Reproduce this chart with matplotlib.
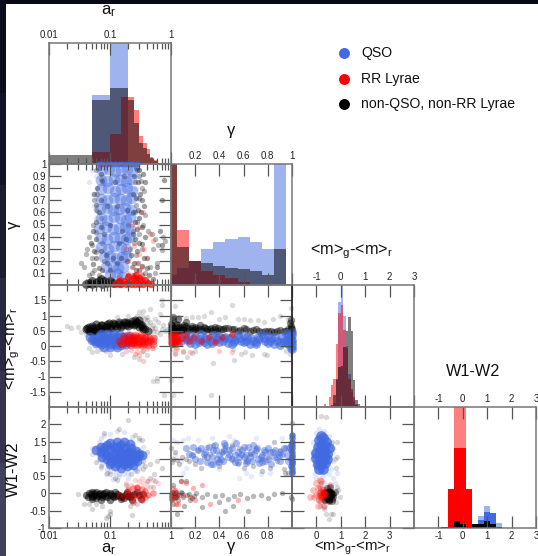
import matplotlib
matplotlib.use("Agg")
import matplotlib.pyplot as plt
from matplotlib.patches import Rectangle
from matplotlib.ticker import FixedLocator, NullFormatter

plt.rcParams['font.family'] = ['Liberation Sans', 'DejaVu Sans']
plt.rcParams['mathtext.fontset'] = 'custom'
plt.rcParams['mathtext.rm'] = 'Liberation Sans'
plt.rcParams['mathtext.default'] = 'regular'

BLUE = "royalblue"
RED = "red"
BLACK = "black"

# histogramas: bordes y alturas (fraccion del panel, >1 se corta)
ar_edges_qso = [0.01, 0.05, 0.1, 0.2, 0.3, 0.4, 0.5, 0.6, 1.0]
ar_qso = [0.012, 0.57, 1.2, 0.02, 0.01, 0.005, 0.0, 0.0]
ar_edges_other = [0.01, 0.05, 0.1, 0.2, 0.25, 0.3, 0.35, 0.4, 0.45, 0.5, 0.6, 1.0]
ar_other = [0.075, 0.53, 0.625, 0.53, 0.335, 0.17, 0.13, 0.08, 0.05, 0.025, 0.005]
ar_edges_red = [0.05, 0.1, 0.15, 0.2, 0.25, 0.3, 0.35, 0.4, 0.45, 0.5, 0.6, 1.0]
ar_rr = [0.10, 0.245, 0.55, 0.55, 0.45, 0.23, 0.175, 0.125, 0.06, 0.03, 0.006]

g_edges = [-0.05, 0.05, 0.15, 0.25, 0.35, 0.45, 0.55, 0.65, 0.75, 0.85, 0.95]
g_qso = [0.08, 0.143, 0.195, 0.30, 0.355, 0.38, 0.397, 0.355, 0.295, 1.2]
g_rr = [1.2, 0.457, 0.198, 0.115, 0.083, 0.055, 0.025, 0.002, 0.008, 0.0]
g_other = [1.2, 0.31, 0.198, 0.18, 0.157, 0.143, 0.13, 0.115, 0.085, 0.295]

gr_edges = [-0.7, -0.6, -0.5, -0.4, -0.3, -0.2, -0.1, 0.0, 0.1, 0.2, 0.3, 0.4, 0.5, 0.6, 0.7, 0.8, 0.9, 1.1]
gr_qso = [0.0, 0.0, 0.0, 0.01, 0.03, 0.22, 0.86, 1.2, 0.75, 0.5, 0.27, 0.12, 0.05, 0.02, 0.005, 0.0, 0.0]
gr_rr = [0.025, 0.01, 0.08, 0.18, 0.23, 0.52, 0.77, 0.84, 0.63, 0.48, 0.23, 0.15, 0.08, 0.025, 0.01, 0.0, 0.0]
gr_other = [0.0, 0.0, 0.0, 0.02, 0.1, 0.23, 0.33, 0.34, 0.49, 0.62, 0.735, 0.625, 0.225, 0.06, 0.025, 0.005, 0.005]

w_edges = [-0.875, -0.625, -0.375, -0.125, 0.125, 0.375, 0.625, 0.875, 1.125, 1.375, 1.625, 2.125]
w_rr_pale = [0.0, 0.0, 1.2, 1.2, 0.0, 0.0, 0.0, 0.0, 0.0, 0.0, 0.0]
w_rr = [0.0, 0.32, 0.66, 0.66, 0.32, 0.0, 0.0, 0.0, 0.0, 0.0, 0.0]
w_qso_pale = [0.0, 0.0, 0.0, 0.0, 0.0, 0.0, 0.1, 0.18, 0.125, 0.04, 0.0]
w_qso = [0.0, 0.0, 0.0, 0.0, 0.0, 0.0, 0.07, 0.13, 0.125, 0.01, 0.0]
w_other = [0.005, 0.005, 0.06, 0.033, 0.006, 0.03, 0.033, 0.06, 0.033, 0.008, 0.004]

# ar - gamma
ag_qcore = [(.075,.95),(.095,.96),(.12,.94),(.15,.95),(.19,.96),(.23,.94),
            (.07,.87),(.09,.86),(.115,.88),(.145,.87),(.18,.86),(.22,.88),
            (.072,.79),(.092,.8),(.12,.78),(.15,.79),(.19,.8),(.23,.78),
            (.07,.71),(.09,.7),(.115,.72),(.145,.71),(.18,.7),(.22,.72),
            (.068,.63),(.088,.64),(.112,.62),(.14,.63),(.175,.64),(.22,.62),
            (.07,.55),(.09,.54),(.115,.56),(.145,.55),(.18,.54),(.215,.56),
            (.066,.47),(.086,.48),(.11,.46),(.14,.47),(.175,.48),(.21,.46),
            (.07,.39),(.09,.38),(.115,.4),(.145,.39),(.18,.38),(.205,.4),
            (.072,.31),(.092,.3),(.118,.32),(.15,.31),(.18,.3),
            (.08,.23),(.1,.24),(.125,.22),(.155,.23),(.185,.24),
            (.085,.15),(.11,.16),(.135,.14),(.165,.15),
            (.1,.08),(.13,.09),(.16,.07)]
ag_qtop = [(.065,1),(.075,1),(.09,1),(.105,1),(.12,1),(.14,1),(.16,1),(.18,1),(.21,1),(.24,1),(.28,1)]
ag_qsparse = [(.045,.85),(.052,.75),(.05,.95),(.058,.55),(.055,.65),(.06,.9),(.06,.72),(.058,.42),
              (.062,.3),(.3,.9),(.3,.7),(.28,.55),(.27,.4),(.3,.95),(.27,.8)]
ag_k = [(.034,.18),(.038,.15),(.042,.3),(.046,.4),(.05,.33),(.05,.22),(.052,.5),(.055,.12),(.058,.62),(.06,.44),
        (.06,.27),(.062,.75),(.065,.08),(.07,.55),(.07,.88),(.075,.35),(.08,.2),(.05,.1),(.045,.08),(.04,.26),
        (.055,.7),(.06,.95),(.28,.95),(.3,.9),(.32,.86),(.34,.8),(.3,.72),(.27,.66),(.26,.6),(.36,.78),
        (.38,.58),(.42,.45),(.48,.42),(.55,.38),(.62,.33),(.7,.29),(.75,.4),(.8,.36),(.35,.5),(.28,.52),
        (.3,.42),(.33,.3),(.25,.35),(.27,.25),(.29,.18),(.4,.22),(.45,.15),(.5,.3),(.6,.18),(.55,.1),
        (.26,.85),(.24,.45),(.3,.12),(.34,.08),(.38,.1),(.28,.06),(.23,.15),(.21,.3),(.2,.5),(.15,.05),
        (.065,.97),(.07,.92),(.075,.86),(.062,.8),(.07,.7),(.055,.75),(.058,.66),(.065,.6),(.06,.52),(.052,.45),
        (.06,.38),(.048,.35),(.055,.28),(.06,.22),(.052,.17),(.065,.14),(.075,.12),(.07,.28),(.08,.42),(.07,.48),
        (.085,.25),(.09,.18),(.1,.12),(.11,.22),(.13,.18),(.15,.22),(.19,.2),(.22,.25),(.2,.08),(.24,.08),
        (.27,.12),(.25,.18),(.28,.28),(.3,.35),(.26,.38),(.24,.42),(.28,.46),(.3,.55),(.26,.52),(.24,.6),
        (.29,.62),(.27,.72),(.24,.75),(.31,.75),(.29,.85),(.25,.9),(.3,.95),(.27,.97),(.35,.92),(.38,.85),
        (.33,.7),(.36,.65),(.32,.6),(.34,.48),(.37,.4),(.33,.34),(.36,.22),(.4,.14),(.34,.16),(.44,.08),
        (.5,.05),(.58,.15),(.65,.45),(.7,.7),(.78,.87),(.72,.33),(.1,.5),(.13,.65),(.16,.45),(.19,.62),
        (.12,.85),(.17,.9),(.09,.65),(.14,.35),(.18,.38)]
ag_kcore = [(.04,.01),(.05,.012),(.06,.015),(.075,.012),(.09,.02),(.11,.015),(.14,.02),(.05,.03),(.065,.03),(.08,.035),(.045,.02),(.1,.035),(.07,.05)]
ag_rcore = [(.12,.012),(.15,.01),(.18,.01),(.22,.01),(.26,.01),(.3,.01),(.35,.012),(.42,.015),(.17,.035),(.22,.04),
            (.27,.04),(.32,.04),(.14,.03),(.2,.02),(.25,.06),(.3,.06),(.37,.04),(.47,.012),(.2,.07),(.27,.08)]
ag_r = [(.14,.07),(.2,.1),(.26,.08),(.33,.09),(.28,.18),(.34,.15),(.3,.26),(.36,.3),(.25,.32),(.4,.22),
        (.45,.42),(.5,.36),(.2,.2),(.3,.48),(.35,.6),(.3,.12),(.24,.15),(.18,.3),(.23,.5)]

# ar - gr
ab_q = [(.055,.22),(.065,.12),(.08,.1),(.1,.06),(.12,.08),(.15,.02),(.18,.05),(.065,.3),(.08,.28),(.1,.25),
        (.125,.24),(.155,.2),(.07,.4),(.09,.4),(.115,.38),(.145,.35),(.06,.1),(.2,.32),(.22,.12),
        (.06,.18),(.07,.05),(.075,.2),(.09,.15),(.105,.14),(.12,.18),(.135,.12),(.15,.14),(.17,.14),(.19,.18),
        (.16,.28),(.13,.3),(.11,.32),(.085,.34),(.07,.32),(.05,.2),(.047,.3),(.21,.22),(.08,-.02),(.1,-.02),(.13,-.04)]
ab_k = [(.04,.55),(.045,.62),(.05,.52),(.06,.6),(.07,.55),(.085,.62),(.1,.6),(.12,.66),(.15,.62),(.18,.7),
        (.22,.72),(.26,.72),(.3,.62),(.35,.55),(.05,.45),(.06,.72),(.075,.7),(.09,.72),(.11,.75),(.14,.78),
        (.18,.8),(.23,.82),(.28,.8),(.33,.68),(.055,.5),(.07,.48),(.045,.48),(.05,.66),
        (.042,.58),(.047,.5),(.053,.58),(.058,.5),(.065,.62),(.072,.68),(.08,.56),(.088,.66),(.095,.74),(.105,.58),
        (.115,.72),(.13,.6),(.14,.72),(.16,.68),(.17,.78),(.2,.66),(.2,.76),(.25,.68),(.27,.78),(.31,.72),
        (.34,.62),(.38,.55),(.42,.48),(.3,.84),(.26,.85)]
ab_ksparse = [(.02,.65),(.023,.6),(.03,.62),(.034,.45),(.04,.4),(.045,-.05),(.05,.12),(.05,-.2),(.062,-.15),(.07,-.1),
              (.085,-.18),(.1,-.3),(.13,.95),(.16,-.25),(.2,1.0),(.25,-.35),(.3,1.1),(.35,1.15),(.4,.95),(.45,1.2),
              (.5,.5),(.55,.9),(.62,.8),(.7,.55),(.75,.7),(.8,.5),(.85,.55),(.4,-.3),(.5,-.05),(.3,-.42),
              (.6,-1.05),(.35,-.15),(.55,.3),(.65,1.05),(.7,1.5),(.5,-1.15),(.6,-1.15),(.72,1.35),(.78,-1.6),
              (.4,.85),(.33,1.0),(.45,.8),(.5,.7),(.42,.7),(.55,.6),(.6,.45),(.65,.4),(.48,.6),(.38,.9),(.28,1.0)]
ab_r = [(.14,.18),(.17,.25),(.2,.2),(.24,.28),(.28,.3),(.33,.2),(.38,.25),(.45,.2),(.5,.15),(.16,.05),
        (.2,.1),(.25,.08),(.3,.1),(.36,.05),(.42,.12),(.17,.32),(.21,.35),(.26,.36),(.32,.35),(.38,.3),
        (.24,.2),(.3,.18),(.25,.12),(.2,.18),(.23,.15),(.25,.2),(.27,.23),(.23,.25),(.3,.25),(.34,.28),
        (.2,.28),(.28,.1),(.33,.1),(.4,.18),(.44,.25),(.18,.12),(.5,.25),(.15,.1),(.36,.18),(.28,.02),
        (.22,.02),(.34,.02),(.42,.02),(.5,.08),(.26,.28)]
ab_rsparse = [(.22,-.12),(.28,-.2),(.34,-.15),(.4,-.1),(.3,-.3),(.48,-.05),(.13,-.02),(.35,-.5),(.26,-.25),(.18,-.15)]

# gamma - gr
gb_q = [(.08,.15),(.13,.2),(.18,.22),(.23,.12),(.28,.25),(.33,.18),(.38,.22),(.43,.15),(.48,.25),(.53,.2),
        (.58,.15),(.63,.28),(.68,.18),(.73,.22),(.78,.15),(.83,.25),(.88,.18),(.92,.28),(.96,.2),(.99,.3),
        (1,.1),(1,-.1),(.1,.3),(.2,.08),(.3,.05),(.4,.32),(.5,.05),(.6,.32),(.7,.05),(.8,.32),
        (.9,.02),(.97,.05),(.15,.35),(.25,.38),(.35,.35),(.45,.3),(.55,.35),(.65,.05),(.75,.38),(.85,.05),(.95,.42),
        (.12,.25),(.16,.1),(.2,.28),(.24,.22),(.27,.12),(.3,.22),(.34,.1),(.37,.3),(.4,.12),(.44,.25),
        (.47,.1),(.5,.28),(.52,.12),(.56,.25),(.6,.12),(.62,.18),(.66,.25),(.7,.12),(.72,.3),(.77,.25),
        (.8,.1),(.82,.18),(.86,.28),(.9,.12),(.93,.18),(.96,.1),(.98,.3),(1,.2),(1,.35),(1,.45),
        (1,0),(.99,.15),(.99,-.05),(.97,.4)]
gb_k = [(.01,.55),(.01,.7),(.02,.85),(.03,.6),(.04,.72),(.05,.55),(.07,.62),(.09,.55),(.11,.7),(.14,.58),
        (.17,.65),(.2,.55),(.24,.68),(.28,.6),(.32,.55),(.36,.62),(.41,.55),(.45,.6),(.5,.55),(.55,.5),
        (.6,.58),(.65,.5),(.7,.55),(.75,.45),(.8,.5),(.85,.45),(.9,.52),(.95,.5),(.99,.6),(.01,.42),
        (.03,.48),(.06,.5),(.1,.52),(.13,.48),(.18,.52),(.22,.52),(.27,.5),(.33,.48),(.38,.5),(.98,.75),
        (.99,.85),(1,.45),(.06,.9),(.12,.8),(.02,.95),
        (0,.6),(.02,.62),(.04,.6),(.06,.68),(.08,.6),(.1,.62),(.12,.65),(.15,.55),(.17,.58),(.2,.62),
        (.22,.58),(.25,.55),(.27,.62),(.3,.55),(.33,.6),(.36,.56),(.39,.58),(.43,.55),(.47,.58),(.52,.55),
        (.57,.52),(.62,.55),(.68,.52),(.73,.5),(.78,.48),(.83,.5),(.88,.48),(.93,.5),(.97,.55),(.99,.65),
        (1,.55),(0,.72),(.02,.5),(0,.45),(.05,.48),(.08,.48)]
gb_ksparse = [(0,.85),(.03,1.3),(.07,.95),(.12,.92),(.17,.95),(.22,.95),(.27,1),(.33,1.1),(.4,.9),(.45,.95),
              (.5,1.35),(.55,.88),(.6,.88),(.65,.85),(.72,.85),(.77,.8),(.84,.88),(.9,1),(.97,.9),(.99,1.25),
              (.52,-.45),(.61,-.2),(.77,-.25),(.01,-.1),(.03,-.25),(.1,-.2),(.13,-.35),(.17,-.22),(.2,-.15),(.35,-.55),
              (.51,-.1),(.58,-.25),(.67,-.3),(.79,-.3),(.95,-.15),(0,-1.1),(.02,-1.6),(.33,-1.6),(.98,-.25)]
gb_r = [(0,.1),(.01,.2),(.015,.3),(.02,.15),(.03,.25),(.04,.12),(.01,.05),(.02,.38),(.03,.05),(0,.28),
        (.015,.12),(.05,.3),(.06,.15),(.07,.4),(.09,.25),(.12,.35),(.15,.18),(.19,.3),(.25,.15),(.31,.3),
        (.36,.12),(.42,.28),(.5,.38),(0,.2),(.01,.1),(.02,.22),(.03,.15),(.01,.3),(.02,.08),(.04,.3),
        (0,.35),(.05,.2),(.03,.38),(.07,.1)]
gb_rsparse = [(.05,-.1),(.1,-.15),(.16,-.2),(.03,-.22),(.04,-.05),(.5,-.2),(.4,-.15)]

# ar - W1-W2
aw_q = [(.1,1.45),(.13,1.5),(.17,1.48),(.21,1.42),(.08,1.3),(.1,1.28),(.13,1.34),(.17,1.3),(.22,1.3),(.27,1.22),
        (.085,1.12),(.11,1.18),(.145,1.15),(.19,1.18),(.24,1.15),(.29,1.08),(.08,1.22),(.1,1.05),(.13,1.02),(.17,1.02),
        (.21,1.05),(.26,1),(.105,.92),(.135,.88),(.17,.85),(.21,.88),(.12,.78),(.15,.75),(.19,.8),(.24,.82),
        (.09,1),(.07,1.2),(.075,1.05),(.09,1.4),(.115,1.35),(.15,1.4),(.2,1.2),(.3,1.15),(.33,1.1),(.28,.95),
        (.07,1.35),(.13,.95),(.16,.95),(.2,.95),(.1,.85),(.14,1.25),(.14,1.08),(.11,1.08),(.19,1.1),(.24,1.05),(.06,1.25)]
aw_qs = [(.06,1.3),(.065,1.5),(.07,1.6),(.08,1.7),(.1,1.72),(.13,1.8),(.17,1.78),(.23,1.62),(.3,1.55),(.35,1.35),
         (.38,1.05),(.065,.98),(.075,.85),(.1,.65),(.14,.55),(.2,.6),(.26,.7),(.33,.85),(.085,.55),(.11,.42),
         (.14,.5),(.2,.45),(.26,.65),(.05,1.15),(.05,1.3),(.07,.75),(.17,.55),(.3,.75),(.12,.6),(.09,.7)]
aw_k = [(.04,-.05),(.045,0),(.05,-.1),(.055,0),(.06,-.12),(.065,-.02),(.07,-.05),(.08,.02),(.09,-.1),(.1,0),
        (.11,-.08),(.13,-.02),(.15,-.1),(.18,-.02),(.21,-.1),(.25,-.02),(.3,-.05),(.05,.03),(.06,.05),(.07,-.18),
        (.085,.05),(.1,-.18),(.12,.05),(.15,-.15),(.19,.05),(.23,-.2),(.28,.05),(.35,-.02),(.32,-.15),(.05,-.15),
        (.043,-.1),(.048,-.02),(.052,-.06),(.058,-.05),(.063,-.08),(.068,0),(.075,-.1),(.078,-.02),(.083,-.07),(.095,-.05),
        (.105,-.03),(.115,-.1),(.125,-.06),(.14,-.05),(.16,-.06),(.17,-.12),(.2,-.06),(.22,-.05)]
aw_ks = [(.03,-.02),(.038,-.3),(.045,-.3),(.05,-.45),(.06,-.3),(.075,-.35),(.085,-.72),(.1,-.6),(.1,-.5),(.092,-.65),
         (.21,-.35),(.23,-.62),(.28,-.3),(.35,.7),(.45,.85),(.52,.55),(.6,.95),(.7,.75),(.45,.45),(.4,.35),
         (.5,.18),(.55,.35),(.33,1.55),(.3,1.6),(.26,1.7),(.2,2.12),(.14,1.85),(.1,.55),(.12,.45),(.18,.25),
         (.06,.9),(.07,.8),(.09,.6),(.13,.4),(.22,.55),(.28,.65),(.35,.95),(.4,1.2),(.38,.8),(.08,1.75)]
aw_r = [(.14,-.05),(.17,-.1),(.19,0),(.21,-.06),(.24,-.1),(.27,-.02),(.3,-.1),(.33,-.02),(.37,-.1),(.42,-.05),
        (.5,0),(.2,.1),(.24,.15),(.28,.2),(.33,.12),(.38,.08),(.24,-.25),(.33,-.2),(.28,.15)]
aw_rs = [(.22,.25),(.3,.35),(.35,.3),(.4,.22),(.45,.2),(.5,.4),(.62,.3),(.18,.3),(.26,.4),(.33,.45),(.42,.35),(.2,.2)]

# gamma - W1-W2
gw_q = [(.15,1.15),(.2,1),(.25,1.3),(.3,1.05),(.35,1.25),(.4,1.1),(.45,1.4),(.5,1),(.55,1.2),(.6,1.35),
        (.65,1.05),(.7,1.25),(.75,1.1),(.8,1.3),(.85,1.05),(.9,1.2),(.18,1.35),(.24,.95),(.3,.9),(.36,1.4),
        (.42,1.2),(.48,1.25),(.54,1.45),(.6,1.05),(.66,1.2),(.72,1),(.78,.95),(.84,1.2),(.9,.95),(.96,1.1),
        (.28,1.2),(.38,1),(.48,1.15),(.58,1.15),(.68,1.4),(.78,1.2),(.88,1.05),(.33,.85),(.43,.95),(.53,.9),
        (.63,.95),(.73,.88),(.83,.85),(.93,1.3),
        (.12,1.3),(.17,1.1),(.22,1.25),(.27,1.15),(.31,1.35),(.34,1.05),(.37,1.25),(.41,1),(.44,1.25),(.47,1.05),
        (.5,1.3),(.53,1.1),(.56,1.05),(.59,1.25),(.62,1.1),(.64,1.35),(.67,.95),(.69,1.15),(.71,1.3),(.74,1.05),
        (.77,1.25),(.8,1),(.82,1.2),(.86,1.25),(.89,1.1),(.92,1.15),(.95,1.3),(.97,.95),(.4,.9),(.44,1.45),
        (.55,.9),(.75,.9),(.62,.88),(.35,.85)]
gw_qedge = [(1,1.6),(1,1.4),(1,1.2),(1,1.05),(1,.9),(1,.75),(1,.6),(1,1.7),(1,1.5),(1,1.3),
            (1,1.1),(1,.95),(1,.85),(1,.65),(.995,1.25),(.995,1),(.995,.8),(.99,1.4)]
gw_qs = [(.02,1.55),(.05,1.5),(.08,.95),(.1,1.55),(.14,1.6),(.03,1.1),(.12,.75),(.22,1.55),(.34,1.6),(.4,.7),
         (.52,1.55),(.62,.6),(.7,1.6),(.82,.6),(.92,1.6),(.56,.45),(.66,.5),(.74,.55),(.1,.6),(.48,1.65)]
gw_k = [(0,1.3),(.01,.9),(.02,1),(.03,1.2),(.05,.98),(.07,.85),(.09,1.05),(.12,1),(.15,.95),(.18,1.1),
        (.22,1.25),(.27,1.05),(.32,1.15),(.38,.9),(.43,1.2),(.5,1),(.56,1.3),(.62,.95),(.68,.8),(.75,1),
        (.82,.75),(.88,.95),(.93,.7),(.97,1.3),(1,1.7),(1,.9),(1,2.05),(.2,.85),(.3,1.35),(.4,.8),
        (.5,1.4),(.6,.75),(.7,1.3),(.8,1.05),(.9,1.25),(.97,.6),(.25,.75),(.35,1.4),(.45,1.35),(.55,.85),
        (.65,1.15),(.75,.65),(.85,1.5),(.94,.6),(1,1.5)]
gw_kl = [(0,-.05),(.01,.05),(.02,-.15),(.03,0),(.04,-.1),(.06,-.2),(.08,.05),(.1,-.1),(.13,-.05),(.17,-.12),
         (.21,0),(.26,-.1),(.3,-.02),(.36,-.08),(.42,-.05),(.47,-.15),(.52,-.08),(.57,-.02),(.63,-.12),(.68,-.08),
         (.74,-.05),(.8,-.12),(.85,-.03),(.92,.02),(.99,-.1),(1,-.15),(.02,-.3),(.05,-.6),(.11,-.35),(.16,-.2),
         (.26,-.4),(.4,-.25),(.64,-.5),(.02,.25),(.08,.35),(.45,-.5),(.51,-.35),(.12,.35),
         (.01,-.05),(.02,0),(.03,-.1),(.04,.03),(.05,-.05),(.0,-.15),(.07,-.05),(.09,0),(.15,-.03),(.19,-.08)]
gw_r = [(0,-.1),(.01,0),(.02,-.05),(.03,-.12),(.04,.05),(.05,-.08),(.01,-.2),(.03,.1),(.02,.15),(.06,-.3),
        (.08,.35),(.12,.3),(.16,-.1),(.2,-.2),(.26,.25),(.32,-.3),(.55,-.2),(.04,-.3),(.1,-.05),(.18,.15)]

# gr - W1-W2 (eje -1 a 4)
mw_q = [(.1,1.55),(.25,1.6),(.4,1.5),(.05,1.35),(.2,1.4),(.35,1.38),(.5,1.3),(0,1.18),(.15,1.2),(.3,1.22),
        (.45,1.15),(0,1.02),(.15,1),(.3,1.05),(.45,1),(.05,.85),(.2,.85),(.35,.88),(.1,.72),(.25,.72),(.2,1.65)]
mw_qs = [(-.2,1.2),(-.15,1.5),(-.1,.85),(0,1.75),(.1,1.85),(.3,1.8),(.5,1.65),(.6,1.45),(.65,1.2),(.7,.95),
         (.6,.7),(-.05,.6),(0,.45),(.25,.5),(.5,.55),(.85,.6),(.7,.45),(-.12,1.1),(-.18,1),(.75,.3),(.3,.3),(.55,.2)]
mw_k = [(.32,0),(.4,.05),(.5,.08),(.6,.05),(.38,-.05),(.48,-.02),(.58,-.05),(.68,-.02),(.42,-.15),(.52,-.12),
        (.62,-.15),(.5,-.22),(.45,.15),(.55,.18),(.35,-.18),(.65,-.22),(.5,-.02),(.42,0),(.58,.02),(.7,-.1),
        (.75,.05),(.45,-.1),(.55,-.1),(.5,.05),(.6,-.08),(.4,-.08),(.48,-.15),(.55,.05),(.62,-.02),(.52,-.18),(.45,.02)]
mw_ks = [(.15,.15),(.2,.3),(.25,-.2),(.3,-.35),(.8,-.25),(.9,.1),(.95,-.1),(.85,.2),(.3,-.45),(.4,-.6),
         (.52,-.75),(.6,-.6),(.7,-.6),(.05,-.2),(.15,-.35),(.2,2.25),(.1,.05),(.7,1.3),(.75,1),(.65,1.5),
         (.8,.75),(.4,2.2),(.35,.9),(-.05,.8),(.85,1.5),(.85,1.05)]
mw_r = [(0,-.05),(.1,0),(.2,.03),(.3,0),(.4,-.03),(.05,.15),(.15,.2),(.25,.12),(.35,.1),(.1,-.2),
        (.2,-.22),(.3,-.18),(-.15,.1),(-.1,-.1),(0,.3),(.5,-.2),(.55,.25),(.2,.35),(.3,-.35),(.05,-.35),
        (-.25,-.1),(.15,.4)]
mw_rcore = [(.15,-.05),(.25,-.08),(.3,.02),(.2,-.1),(.25,.05),(.35,-.02)]

# colores de la franja oscura de la captura
strip_colors = ["#0b0d1f", "#131327", "#1d1b30", "#2a2740", "#37334d", "#43405a"]

tick_col = "#555555"
frame_col = "#777777"

fig = plt.figure(figsize=(5.38, 5.56), dpi=100, facecolor="white")


def panel(x0, y0, x1, y1):
    return fig.add_axes([x0/538, 1-y1/556, (x1-x0)/538, (y1-y0)/556], facecolor="none")


def style(ax, right_black=False):
    for lado in ax.spines:
        ax.spines[lado].set_color(frame_col)
        ax.spines[lado].set_linewidth(1.1)
    if right_black:
        ax.spines["right"].set_color("#222222")
    ax.tick_params(which="major", direction="in", length=8.6, width=0.9, color=tick_col,
                   top=True, bottom=True, left=True, right=True,
                   labelsize=7, labelcolor="#222222", pad=2)
    ax.tick_params(which="minor", direction="in", length=4.3, width=0.9, color=tick_col,
                   top=True, bottom=True, left=False, right=False)


def ar_axis(ax, top=False, bottom=False):
    ax.set_xscale("log")
    ax.set_xlim(0.01, 1)
    ax.xaxis.set_major_locator(FixedLocator([0.01, 0.1, 1]))
    menores = [m*d for d in (0.01, 0.1) for m in range(2, 10)]
    ax.xaxis.set_minor_locator(FixedLocator(menores))
    ax.xaxis.set_minor_formatter(NullFormatter())
    ax.set_xticklabels(["0.01", "0.1", "1"])
    ax.tick_params(axis="x", labeltop=top, labelbottom=bottom)


def x_axis(ax, lim, ticks, labels, top=False, bottom=False):
    ax.set_xlim(*lim)
    ax.set_xticks(ticks)
    ax.set_xticklabels(labels)
    ax.tick_params(axis="x", labeltop=top, labelbottom=bottom)


def y_axis(ax, lim, ticks, labels=None):
    ax.set_ylim(*lim)
    ax.set_yticks(ticks)
    if labels is None:
        ax.tick_params(axis="y", labelleft=False)
    else:
        ax.set_yticklabels(labels)


def barras(ax, edges, alturas, color, alpha):
    lefts = edges[:-1]
    widths = [b-a for a, b in zip(edges[:-1], edges[1:])]
    ax.bar(lefts, alturas, width=widths, align="edge", color=color, alpha=alpha, linewidth=0)
    ax.set_ylim(0, 1)
    ax.set_yticks([])


def puntos(ax, pares, color, s=15, alpha=0.12):
    x, y = zip(*pares)
    ax.scatter(x, y, s=s, c=color, alpha=alpha, linewidths=0, clip_on=False)


cols = [(49, 171), (171, 292), (292, 414), (414, 536)]
rows = [(43, 164), (164, 285), (285, 407), (407, 528)]

# histogramas de la diagonal
h1 = panel(cols[0][0], rows[0][0], cols[0][1], rows[0][1])
style(h1)
barras(h1, ar_edges_qso, ar_qso, BLUE, 0.5)
barras(h1, ar_edges_red, ar_rr, RED, 0.5)
barras(h1, ar_edges_other, ar_other, BLACK, 0.5)
ar_axis(h1, top=True)

h2 = panel(cols[1][0], rows[1][0], cols[1][1], rows[1][1])
style(h2)
barras(h2, g_edges, g_qso, BLUE, 0.5)
barras(h2, g_edges, g_rr, RED, 0.5)
barras(h2, g_edges, g_other, BLACK, 0.5)
x_axis(h2, (0, 1), [0.2, 0.4, 0.6, 0.8, 1], ["0.2", "0.4", "0.6", "0.8", "1"], top=True)

h3 = panel(cols[2][0], rows[2][0], cols[2][1], rows[2][1])
style(h3)
barras(h3, gr_edges, gr_qso, BLUE, 0.5)
barras(h3, gr_edges, gr_rr, RED, 0.5)
barras(h3, gr_edges, gr_other, BLACK, 0.5)
x_axis(h3, (-2, 3), [-1, 0, 1, 2, 3], ["-1", "0", "1", "2", "3"], top=True)

h4 = panel(cols[3][0], rows[3][0], cols[3][1], rows[3][1])
style(h4)
barras(h4, w_edges, w_rr_pale, RED, 0.5)
barras(h4, w_edges, w_rr, RED, 1.0)
barras(h4, w_edges, w_qso_pale, BLUE, 0.5)
barras(h4, w_edges, w_qso, BLUE, 1.0)
barras(h4, w_edges, w_other, BLACK, 1.0)
x_axis(h4, (-2, 3), [-1, 0, 1, 2, 3], ["-1", "0", "1", "2", "3"], top=True, bottom=True)

# ejes de las nubes de puntos
g_ticks = [0.1, 0.2, 0.3, 0.4, 0.5, 0.6, 0.7, 0.8, 0.9, 1]
g_labels = ["0.1", "0.2", "0.3", "0.4", "0.5", "0.6", "0.7", "0.8", "0.9", "1"]
gr_ticks = [-1.5, -1, -0.5, 0, 0.5, 1, 1.5]
gr_labels = ["-1.5", "-1", "-0.5", "0", "0.5", "1", "1.5"]
w_ticks = [-1, -0.5, 0, 0.5, 1, 1.5, 2]
w_labels = ["-1", "-0.5", "0", "0.5", "1", "1.5", "2"]
g2_ticks = [0.2, 0.4, 0.6, 0.8]
g2_labels = ["0.2", "0.4", "0.6", "0.8"]

p1 = panel(cols[0][0], rows[1][0], cols[0][1], rows[1][1])
style(p1)
ar_axis(p1)
y_axis(p1, (0, 1), g_ticks, g_labels)
puntos(p1, ag_k, BLACK, alpha=0.28)
puntos(p1, ag_qsparse, BLUE, alpha=0.15)
puntos(p1, ag_qcore, BLUE, s=70, alpha=0.42)
puntos(p1, ag_k[60:], BLACK, alpha=0.14)
puntos(p1, ag_r, RED, alpha=0.22)
puntos(p1, ag_kcore, BLACK, s=40, alpha=0.6)
puntos(p1, ag_qtop, BLUE, s=18, alpha=0.9)
puntos(p1, ag_rcore, RED, s=28, alpha=0.7)

p2 = panel(cols[0][0], rows[2][0], cols[0][1], rows[2][1])
style(p2)
ar_axis(p2)
y_axis(p2, (-2, 2), gr_ticks, gr_labels)
puntos(p2, ab_ksparse, BLACK, alpha=0.14)
puntos(p2, ab_k, BLACK, s=34, alpha=0.55)
puntos(p2, ab_rsparse, RED, alpha=0.2)
puntos(p2, ab_q, BLUE, s=50, alpha=0.65)
puntos(p2, ab_r, RED, s=34, alpha=0.4)

p3 = panel(cols[1][0], rows[2][0], cols[1][1], rows[2][1])
style(p3, right_black=True)
x_axis(p3, (0, 1), [0.2, 0.4, 0.6, 0.8, 1], ["0.2", "0.4", "0.6", "0.8", "1"])
y_axis(p3, (-2, 2), gr_ticks)
puntos(p3, gb_ksparse, BLACK, alpha=0.14)
puntos(p3, gb_k, BLACK, s=28, alpha=0.45)
puntos(p3, gb_rsparse, RED, alpha=0.2)
puntos(p3, gb_q, BLUE, s=40, alpha=0.6)
puntos(p3, gb_r, RED, s=24, alpha=0.5)

p4 = panel(cols[0][0], rows[3][0], cols[0][1], rows[3][1])
style(p4)
ar_axis(p4, bottom=True)
y_axis(p4, (-1, 2.5), w_ticks, w_labels)
puntos(p4, aw_qs, BLUE, alpha=0.16)
puntos(p4, aw_ks, BLACK, alpha=0.16)
puntos(p4, aw_k, BLACK, s=28, alpha=0.5)
puntos(p4, aw_rs, RED, alpha=0.15)
puntos(p4, aw_q, BLUE, s=50, alpha=0.75)
puntos(p4, aw_r, RED, s=22, alpha=0.4)

p5 = panel(cols[1][0], rows[3][0], cols[1][1], rows[3][1])
style(p5, right_black=True)
x_axis(p5, (0, 1), g2_ticks, g2_labels, bottom=True)
y_axis(p5, (-1, 2.5), w_ticks)
puntos(p5, gw_qs, BLUE, alpha=0.13)
puntos(p5, gw_k, BLACK, alpha=0.22)
puntos(p5, gw_kl, BLACK, alpha=0.28)
puntos(p5, gw_q, BLUE, s=26, alpha=0.45)
puntos(p5, gw_qedge, BLUE, s=22, alpha=0.8)
puntos(p5, gw_r, RED, alpha=0.3)

p6 = panel(cols[2][0], rows[3][0], cols[2][1], rows[3][1])
style(p6)
x_axis(p6, (-1, 4), [0, 1, 2, 3], ["0", "1", "2", "3"], bottom=True)
y_axis(p6, (-1, 2.5), w_ticks)
puntos(p6, mw_ks, BLACK, alpha=0.15)
puntos(p6, mw_qs, BLUE, alpha=0.15)
puntos(p6, mw_r, RED, s=24, alpha=0.25)
puntos(p6, mw_k, BLACK, s=26, alpha=0.4)
puntos(p6, mw_rcore, RED, s=22, alpha=0.55)
puntos(p6, mw_q, BLUE, s=60, alpha=0.8)


def texto(px, py, s, size=11, rot=0):
    fig.text(px/538, 1-py/556, s, fontsize=size, rotation=rot, ha="center", va="center", color="#111111")


# titulos y etiquetas
gr_name = "<m>$_g$-<m>$_r$"
texto(109, 11, "a$_r$", 12)
texto(231, 130, "γ", 12)
texto(352, 252, gr_name, 11.7)
texto(473, 371, "W1-W2", 11.7)
texto(109, 549, "a$_r$", 12)
texto(231, 547, "γ", 12)
texto(352, 548, gr_name, 10.8)
texto(13, 225, "γ", 12, 90)
texto(13, 348, gr_name, 11.7, 90)
texto(13, 469, "W1-W2", 12, 90)

# leyenda
leg_y = [53, 79, 104]
leg_txt = ["QSO", "RR Lyrae", "non-QSO, non-RR Lyrae"]
leg_col = [BLUE, RED, BLACK]
base = fig.add_axes([0, 0, 1, 1], facecolor="none")
base.set_xlim(0, 538)
base.set_ylim(556, 0)
base.axis("off")
for yy, tt, cc in zip(leg_y, leg_txt, leg_col):
    base.scatter([344], [yy], s=62, c=cc, linewidths=0)
    base.text(361, yy, tt, fontsize=10.1, va="center", ha="left", color="#111111")

# franja oscura de la captura, arriba y a la izquierda
base.add_patch(Rectangle((0, 0), 538, 4, color="#070a14", linewidth=0))
for i, c in enumerate(strip_colors):
    base.add_patch(Rectangle((0, i*556/6), 6, 556/6+1, color=c, linewidth=0))

plt.savefig("out.png", dpi=100)
